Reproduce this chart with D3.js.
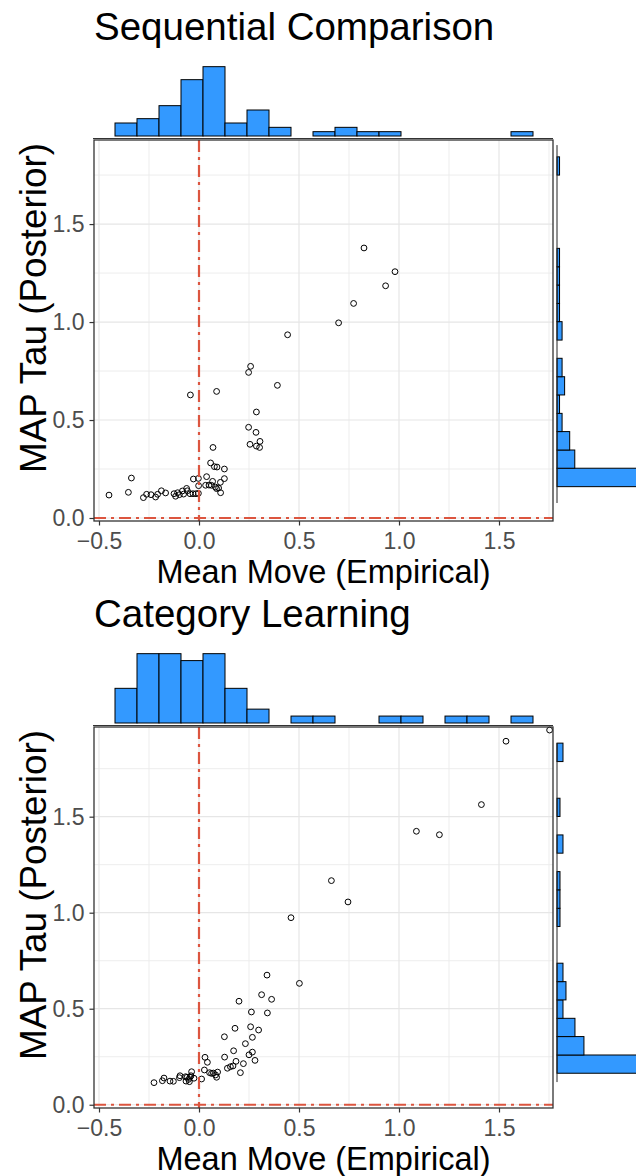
<!DOCTYPE html>
<html>
<head>
<meta charset="utf-8">
<script src="https://cdn.jsdelivr.net/npm/d3@7"></script>
<style>
  body { margin: 0; background: #fff; }
  svg { display: block; }
  text { font-family: "Liberation Sans", Arial, Helvetica, sans-serif; }
</style>
</head>
<body>
<svg id="chart" width="636" height="1176"></svg>
<script>
// ---- Sequential Comparison: per-participant mean move vs. MAP tau ----
const seqMove = [-0.450, -0.353, -0.338, -0.278, -0.262, -0.240, -0.217, -0.207, -0.188, -0.167,
  -0.125, -0.117, -0.107, -0.098, -0.083, -0.077, -0.062, -0.058, -0.045, -0.030,
  -0.015, -0.003, -0.028, -0.003, -0.002, -0.043, 0.038, 0.033, 0.058, 0.068,
  0.077, 0.090, 0.127, 0.070, 0.088, 0.062, 0.082, 0.088, 0.098, 0.108,
  0.107, 0.127, 0.248, 0.258, 0.392, 0.287, 0.248, 0.285, 0.305, 0.255,
  0.287, 0.303, 0.825, 0.980, 0.933, 0.773, 0.698, 0.443, 0.050];
const seqTau = [0.117, 0.131, 0.204, 0.104, 0.121, 0.119, 0.107, 0.121, 0.139, 0.128,
  0.124, 0.111, 0.129, 0.119, 0.138, 0.122, 0.151, 0.139, 0.124, 0.124,
  0.124, 0.126, 0.199, 0.202, 0.165, 0.628, 0.211, 0.167, 0.281, 0.187,
  0.262, 0.260, 0.250, 0.360, 0.646, 0.167, 0.158, 0.150, 0.153, 0.129,
  0.182, 0.201, 0.743, 0.774, 0.677, 0.541, 0.463, 0.437, 0.391, 0.376,
  0.367, 0.360, 1.378, 1.257, 1.185, 1.095, 0.996, 0.935, 0.168];

// ---- Category Learning ----
const catMove = [1.753, 1.535, 1.412, 1.087, 1.202, 0.662, 0.745, 0.460, 0.502, 0.340,
  0.313, 0.363, 0.200, 0.262, 0.342, 0.180, 0.258, 0.298, 0.127, 0.267,
  0.232, 0.173, 0.267, 0.250, 0.128, 0.280, 0.185, 0.222, 0.170, 0.157,
  0.142, 0.207, 0.030, 0.042, 0.027, 0.053, 0.063, 0.072, 0.093, 0.083,
  0.088, 0.013, -0.037, -0.040, -0.045, -0.052, -0.060, -0.065, -0.048, -0.025,
  -0.095, -0.098, -0.128, -0.145, -0.175, -0.183, -0.225, -0.067];
const catTau = [1.951, 1.893, 1.563, 1.424, 1.406, 1.167, 1.056, 0.974, 0.632, 0.675,
  0.573, 0.549, 0.539, 0.483, 0.478, 0.398, 0.406, 0.389, 0.354, 0.351,
  0.318, 0.281, 0.274, 0.260, 0.248, 0.231, 0.226, 0.214, 0.202, 0.198,
  0.190, 0.167, 0.247, 0.221, 0.181, 0.167, 0.163, 0.165, 0.170, 0.155,
  0.143, 0.134, 0.172, 0.151, 0.143, 0.132, 0.143, 0.123, 0.120, 0.138,
  0.151, 0.141, 0.122, 0.123, 0.139, 0.125, 0.115, 0.146];

// ---- Marginal histograms ----
const moveBinEdges = [-0.42, -0.31, -0.20, -0.09, 0.02, 0.13, 0.24, 0.35, 0.46, 0.57,
  0.68, 0.79, 0.90, 1.01, 1.12, 1.23, 1.34, 1.45, 1.56, 1.67];
const seqMoveCounts = [3, 4, 7, 13, 16, 3, 6, 2, 0, 1, 2, 1, 1, 0, 0, 0, 0, 0, 1];
const catMoveCounts = [5, 10, 10, 9, 10, 5, 2, 0, 1, 1, 0, 0, 1, 1, 0, 1, 1, 0, 1];

const seqTauBinEdges = [0.160, 0.254, 0.347, 0.441, 0.534, 0.628, 0.721, 0.815, 0.908, 1.002,
  1.095, 1.189, 1.282, 1.376, 1.469, 1.563, 1.656, 1.750, 1.843];
const seqTauCounts = [33, 7, 5, 2, 1, 3, 2, 0, 2, 1, 1, 1, 1, 0, 0, 0, 0, 1];
const catTauBinEdges = [0.164, 0.259, 0.355, 0.450, 0.546, 0.641, 0.737, 0.832, 0.928, 1.023,
  1.119, 1.214, 1.310, 1.405, 1.501, 1.596, 1.692, 1.787, 1.883];
const catTauCounts = [28, 9, 6, 2, 3, 2, 0, 0, 1, 1, 1, 0, 2, 0, 1, 0, 0, 2];

// ---- Axis ticks ----
const moveTicks = [-0.5, 0, 0.5, 1, 1.5];
const moveMinor = [-0.25, 0.25, 0.75, 1.25, 1.75];
const tauTicks = [0, 0.5, 1, 1.5];
const tauMinor = [0.25, 0.75, 1.25, 1.75];

const xTitle = "Mean Move (Empirical)";
const yTitle = "MAP Tau (Posterior)";

const svg = d3.select("#chart");
const fmt = d3.format(".1f");
const refColor = "#DC553F";
const barFill = "#3399FF";

const panels = [
  { title: "Sequential Comparison", move: seqMove, tau: seqTau,
    moveCounts: seqMoveCounts, tauEdges: seqTauBinEdges, tauCounts: seqTauCounts,
    yDomain: [-0.0153, 1.929], top: 140, tauAxisExtent: [0.0765, 1.903] },
  { title: "Category Learning", move: catMove, tau: catTau,
    moveCounts: catMoveCounts, tauEdges: catTauBinEdges, tauCounts: catTauCounts,
    yDomain: [-0.017, 1.967], top: 727, tauAxisExtent: [0.118, 1.883] }
];

const left = 94, right = 553, panelH = 381;

panels.forEach(p => {
  const top = p.top, bottom = top + panelH;
  const x = d3.scaleLinear().domain([-0.525, 1.77]).range([left, right]);
  const y = d3.scaleLinear().domain(p.yDomain).range([bottom, top]);
  const g = svg.append("g");

  // title
  g.append("text").attr("x", left).attr("y", top - 100)
    .attr("font-size", 38.5).attr("fill", "#000").text(p.title);

  // grid
  const grid = g.append("g");
  grid.selectAll("line.vminor").data(moveMinor.filter(v => x(v) < right)).join("line")
    .attr("x1", d => x(d)).attr("x2", d => x(d)).attr("y1", top).attr("y2", bottom)
    .attr("stroke", "#EBEBEB").attr("stroke-width", 0.9);
  grid.selectAll("line.hminor").data(tauMinor.filter(v => y(v) > top)).join("line")
    .attr("y1", d => y(d)).attr("y2", d => y(d)).attr("x1", left).attr("x2", right)
    .attr("stroke", "#EBEBEB").attr("stroke-width", 0.9);
  grid.selectAll("line.vmajor").data(moveTicks).join("line")
    .attr("x1", d => x(d)).attr("x2", d => x(d)).attr("y1", top).attr("y2", bottom)
    .attr("stroke", "#E6E6E6").attr("stroke-width", 1.2);
  grid.selectAll("line.hmajor").data(tauTicks).join("line")
    .attr("y1", d => y(d)).attr("y2", d => y(d)).attr("x1", left).attr("x2", right)
    .attr("stroke", "#E6E6E6").attr("stroke-width", 1.2);

  // points
  g.append("g").selectAll("circle").data(d3.zip(p.move, p.tau)).join("circle")
    .attr("cx", d => x(d[0])).attr("cy", d => y(d[1])).attr("r", 2.9)
    .attr("fill", "none").attr("stroke", "#000").attr("stroke-width", 1);

  // reference lines at zero
  g.append("line").attr("x1", x(0)).attr("x2", x(0)).attr("y1", top).attr("y2", bottom)
    .attr("stroke", refColor).attr("stroke-width", 2.2).attr("stroke-dasharray", "12 5 3 5");
  g.append("line").attr("x1", left).attr("x2", right).attr("y1", y(0)).attr("y2", y(0))
    .attr("stroke", refColor).attr("stroke-width", 2.2).attr("stroke-dasharray", "12 5 3 5");

  // panel border
  g.append("rect").attr("x", left).attr("y", top).attr("width", right - left).attr("height", panelH)
    .attr("fill", "none").attr("stroke", "#333").attr("stroke-width", 1.3);

  // axes
  const xAxis = g.append("g").attr("transform", `translate(0,${bottom})`)
    .call(d3.axisBottom(x).tickValues(moveTicks).tickFormat(fmt).tickSize(4.5).tickPadding(7));
  const yAxis = g.append("g").attr("transform", `translate(${left},0)`)
    .call(d3.axisLeft(y).tickValues(tauTicks).tickFormat(fmt).tickSize(4.5).tickPadding(5));
  [xAxis, yAxis].forEach(a => {
    a.select(".domain").remove();
    a.selectAll(".tick line").attr("stroke", "#333").attr("stroke-width", 1.2);
    a.selectAll(".tick text").attr("fill", "#4D4D4D").attr("font-size", 23)
      .attr("font-family", "'Liberation Sans', Arial, sans-serif");
  });

  // axis titles
  g.append("text").attr("x", (left + right) / 2).attr("y", bottom + 62)
    .attr("text-anchor", "middle").attr("font-size", 32.5).attr("fill", "#000").text(xTitle);
  g.append("text").attr("transform", `translate(46,${top + 168}) rotate(-90)`)
    .attr("text-anchor", "middle").attr("font-size", 36.8).attr("fill", "#000").text(yTitle);

  // top marginal histogram (mean move)
  const topBase = top - 4;
  const cTop = d3.scaleLinear().domain([0, d3.max(p.moveCounts) * 1.05]).range([topBase, topBase - 72.8]);
  g.append("g").selectAll("rect").data(p.moveCounts.map((c, i) => ({ c, x0: moveBinEdges[i], x1: moveBinEdges[i + 1] })))
    .join("rect")
    .attr("x", d => x(d.x0)).attr("width", d => x(d.x1) - x(d.x0))
    .attr("y", d => cTop(d.c)).attr("height", d => topBase - cTop(d.c))
    .attr("fill", barFill).attr("stroke", "#000").attr("stroke-width", 1)
    .attr("visibility", d => d.c > 0 ? "visible" : "hidden");
  g.append("line").attr("x1", left - 1).attr("x2", right).attr("y1", top - 1.5).attr("y2", top - 1.5)
    .attr("stroke", "#333").attr("stroke-width", 1);

  // right marginal histogram (MAP tau)
  const rBase = 557;
  const cRight = d3.scaleLinear().domain([0, d3.max(p.tauCounts) * 1.05]).range([rBase, rBase + 88]);
  g.append("g").selectAll("rect").data(p.tauCounts.map((c, i) => ({ c, y0: p.tauEdges[i], y1: p.tauEdges[i + 1] })))
    .join("rect")
    .attr("x", rBase).attr("width", d => cRight(d.c) - rBase)
    .attr("y", d => y(d.y1)).attr("height", d => y(d.y0) - y(d.y1))
    .attr("fill", barFill).attr("stroke", "#000").attr("stroke-width", 1)
    .attr("visibility", d => d.c > 0 ? "visible" : "hidden");
  g.append("line").attr("x1", rBase).attr("x2", rBase)
    .attr("y1", y(p.tauAxisExtent[1])).attr("y2", y(p.tauAxisExtent[0]))
    .attr("stroke", "#222").attr("stroke-width", 1);
});
</script>
</body>
</html>
